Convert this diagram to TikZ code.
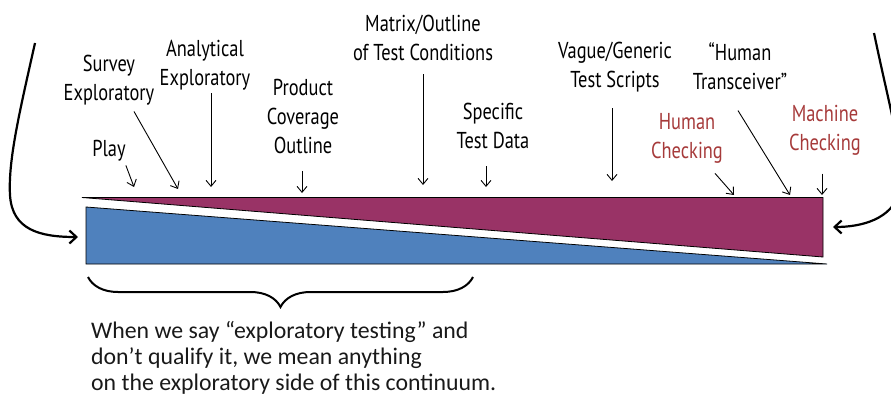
\documentclass[tikz,border=0pt]{standalone}
\usepackage{fontspec}
\setmainfont{Carlito}
\newfontfamily\handfont[FakeStretch=0.8]{PT Sans}
\usetikzlibrary{arrows.meta,decorations.pathreplacing}
\definecolor{barblue}{RGB}{79,129,189}
\definecolor{barpurple}{RGB}{153,51,102}
\definecolor{checkred}{RGB}{166,58,58}
\begin{document}
\begin{tikzpicture}[x=1pt,y=-1pt,
  lbl/.style={font=\handfont\fontsize{23}{29}\selectfont, align=center, inner sep=0pt, anchor=north},
  redlbl/.style={lbl, text=checkred},
  thinarrow/.style={-{Straight Barb[length=6pt,width=10pt]}, line width=0.9pt},
  bigarrow/.style={-{Straight Barb[length=7pt,width=13pt]}, line width=2.2pt},
  barshape/.style={draw=black, line width=0.8pt},
]
\useasboundingbox (0,0) rectangle (891,401);

% continuum bar
\filldraw[barshape, fill=barpurple] (82,197.5) -- (823,197.5) -- (823,257) -- cycle;
\filldraw[barshape, fill=barblue] (86,207) -- (86,264) -- (827,264) -- cycle;

% labels
\node[lbl] (play) at (109,140) {Play};
\node[lbl] (survey) at (109,55) {Survey\\Exploratory};
\node[lbl] (anal) at (205,40) {Analytical\\Exploratory};
\node[lbl] (prod) at (303,79) {Product\\Coverage\\Outline};
\node[lbl] (matrix) at (423,15) {Matrix/Outline\\of Test Conditions};
\node[lbl] (spec) at (493,103) {Specific\\Test Data};
\node[lbl] (vague) at (615,42) {Vague/Generic\\Test Scripts};
\node[lbl] (trans) at (740,42) {“Human\\Transceiver”};
\node[redlbl] (hum) at (687,113) {Human\\Checking};
\node[redlbl] (mach) at (825,105) {Machine\\Checking};

% arrow tips on the bar
\coordinate (tPlay) at (134,187);
\coordinate (tSurvey) at (178,189);
\coordinate (tAnal) at (211,187);
\coordinate (tProd) at (302,193);
\coordinate (tMatrix) at (423,185);
\coordinate (tSpec) at (486,187);
\coordinate (tVague) at (612,181);
\coordinate (tHum) at (734,195);
\coordinate (tTrans) at (790,195);
\coordinate (tMach) at (822,195);

\draw[thinarrow] ([yshift=-4pt]play.south east) -- (tPlay);
\draw[thinarrow] ([xshift=25pt,yshift=-6pt]survey.south) -- (tSurvey);
\draw[thinarrow, shorten <=3pt] (tAnal |- anal.south) -- (tAnal);
\draw[thinarrow, shorten <=17pt] (tProd |- prod.south) -- (tProd);
\draw[thinarrow, shorten <=13pt] (tMatrix |- matrix.south) -- (tMatrix);
\draw[thinarrow, shorten <=17pt] (tSpec |- spec.south) -- (tSpec);
\draw[thinarrow, shorten <=16pt] (tVague |- vague.south) -- (tVague);
\draw[thinarrow] ([xshift=28pt,yshift=-10pt]hum.south) -- (tHum);
\draw[thinarrow] ([xshift=-2pt,yshift=-21pt]trans.south) -- (tTrans);
\draw[thinarrow, shorten <=18pt] (tMach |- mach.south) -- (tMach);

% big curved arrows
\coordinate (lS) at (35,43);
\coordinate (eL) at (78,237);
\coordinate (rS) at (874,33);
\coordinate (eR) at (833,227);
\draw[bigarrow] (lS) .. controls (20,110) and (8,160) .. (10,195) .. controls (12,230) and (40,237) .. (eL);
\draw[bigarrow] (rS) .. controls (890,110) and (905,160) .. (900,190) .. controls (893,220) and (860,227) .. (eR);

% brace and note
\coordinate (bL) at (88,277);
\coordinate (bR) at (473,277);
\draw[decorate, decoration={brace, amplitude=30pt, mirror}, line width=2pt] (bL) -- (bR);
\node[anchor=north west, align=left, inner sep=0pt, text=black!90, font=\fontsize{23.8}{26}\selectfont] (note) at (91,321)
  {When we say “exploratory testing” and\\don’t qualify it, we mean anything\\on the exploratory side of this continuum.};
\end{tikzpicture}
\end{document}
